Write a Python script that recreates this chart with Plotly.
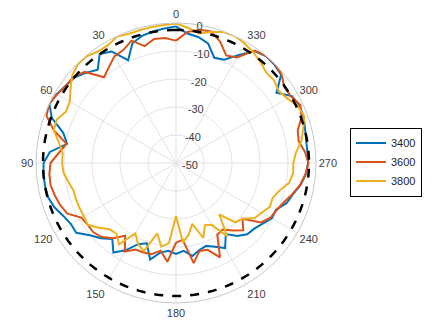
import plotly.graph_objects as go

theta_deg = list(range(0, 360, 5))

r_3400 = [-1.2, -1.8, -2.3, -3.0, -4.5, -9.5, -4.0, -2.5, -6.5, -4.5, -2.6, -1.9,
          -0.8, -0.1, -2.8, -8.3, -10.5, -4.8, -2.7, -2.5, -2.5, -2.7, -3.8, -5.5,
          -6.6, -6.5, -9.9, -12.0, -14.6, -11.0, -14.0, -18.0, -19.5, -14.3, -17.5, -18.5,
          -17.5, -18.5, -16.3, -17.8, -18.5, -17.0, -14.9, -19.0, -16.0, -14.0, -13.5, -12.2,
          -10.5, -10.6, -8.0, -6.8, -4.8, -3.5, -2.8, -2.9, -2.8, -2.3, -1.5, -1.4,
          -2.2, -6.2, -1.0, -0.3, -0.1, -1.2, -5.5, -9.3, -10.0, -5.8, -4.3, -3.6]

r_3600 = [-6.3, -5.2, -5.0, -6.8, -3.5, -5.5, -6.0, -8.2, -10.0, -4.0, -2.1, -2.0,
          -1.0, 0.0, -0.8, -4.8, -10.3, -8.0, -5.2, -4.6, -4.5, -5.2, -6.0, -7.2,
          -11.0, -11.5, -11.5, -12.6, -14.9, -18.3, -13.5, -15.9, -16.0, -16.3, -18.2, -14.6,
          -21.5, -22.5, -13.7, -17.5, -17.0, -12.8, -20.5, -21.0, -18.5, -16.0, -19.0, -13.0,
          -11.0, -10.3, -9.0, -7.0, -5.0, -3.6, -2.7, -3.8, -5.5, -5.0, -2.3, -1.0,
          -2.5, -2.8, -0.8, 0.0, 0.0, -1.0, -6.5, -7.6, -3.9, -1.4, -1.7, -3.0]

r_3800 = [-0.2, -0.5, -0.7, -0.8, -0.9, -0.2, -1.4, -1.4, -0.3, -0.3, -1.6, -4.0,
          -6.2, -6.6, -4.7, -4.8, -7.5, -9.4, -9.3, -9.7, -11.0, -12.1, -12.0, -12.0,
          -12.0, -11.5, -14.0, -16.5, -17.0, -14.5, -21.0, -18.0, -16.5, -24.0, -19.7, -21.3,
          -31.0, -21.5, -24.0, -27.5, -21.5, -25.5, -24.5, -18.0, -26.0, -20.0, -19.0, -15.7,
          -14.6, -13.0, -13.3, -11.8, -9.0, -8.0, -8.1, -7.0, -4.5, -3.0, -1.2, -2.0,
          -4.0, -5.2, -4.2, -4.4, -3.0, -1.8, -0.8, 0.0, -0.2, -1.6, -3.0, -1.5]

ref_level = -2.5
ref_theta = list(range(0, 361, 2))

series_names = ["3400", "3600", "3800"]
series_values = [r_3400, r_3600, r_3800]
series_colors = ["#0072BD", "#D95319", "#EDB120"]

radial_ticks = [-50, -40, -30, -20, -10, 0]
angular_ticks = list(range(0, 360, 30))

W, H = 435, 322
ML, MR, MT, MB = 20, 0, 15, 15
PW, PH = W - ML - MR, H - MT - MB


def px_x(x):
    return (x - ML) / PW


def px_y(y):
    return (H - MB - y) / PH


fig = go.Figure()

for name, vals, col in zip(series_names, series_values, series_colors):
    fig.add_trace(go.Scatterpolar(
        r=vals + [vals[0]], theta=theta_deg + [360], mode="lines", name=name,
        line=dict(color=col, width=2)))

fig.add_trace(go.Scatterpolar(
    r=[ref_level] * len(ref_theta), theta=ref_theta, mode="lines",
    line=dict(color="black", width=2.5, dash="dash"), showlegend=False,
    hoverinfo="skip"))

fig.update_layout(
    width=W, height=H,
    margin=dict(l=ML, r=MR, t=MT, b=MB, autoexpand=False),
    paper_bgcolor="white",
    font=dict(family="Liberation Sans, Arial, sans-serif", size=11, color="#404040"),
    polar=dict(
        domain=dict(x=[px_x(36), px_x(316)], y=[px_y(303), px_y(23)]),
        bgcolor="white",
        angularaxis=dict(
            rotation=90, direction="counterclockwise",
            tickmode="array", tickvals=angular_ticks,
            ticktext=[str(t) for t in angular_ticks],
            showgrid=True, gridcolor="#e3e3e3", gridwidth=1,
            showline=True, linecolor="#c8c8c8", linewidth=1,
            ticks="", tickfont=dict(size=11, color="#404040")),
        radialaxis=dict(
            range=[-50, 0], tickmode="array", tickvals=radial_ticks,
            ticktext=[str(t) for t in radial_ticks],
            angle=84, tickangle=84, showline=False, ticks="",
            showgrid=True, gridcolor="#e3e3e3", gridwidth=1,
            tickfont=dict(size=11, color="#404040")),
    ),
    legend=dict(
        x=px_x(350), y=px_y(162), xanchor="left", yanchor="middle",
        bordercolor="black", borderwidth=1, bgcolor="white",
        font=dict(size=11, color="#262626"), itemwidth=30,
        tracegroupgap=0),
)

fig.write_html("out.html", config={"displayModeBar": False},
               post_script="document.body.style.margin='0';document.body.style.overflow='hidden';")
